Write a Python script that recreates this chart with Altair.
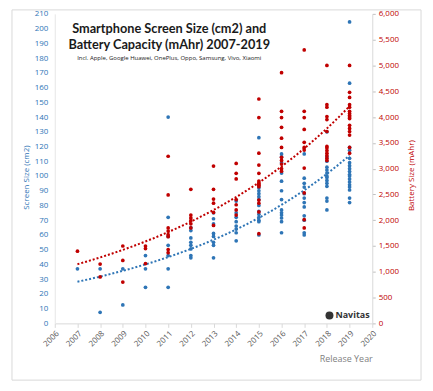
import altair as alt
import pandas as pd

# ---- data ----
years = list(range(2007, 2020))

screen_2007 = [37]
screen_2008 = [37, 7.5]
screen_2009 = [37, 12.5]
screen_2010 = [46, 37, 24.5]
screen_2011 = [140, 72, 59, 53, 46, 37, 24.5]
screen_2012 = [65, 63, 58, 55, 53, 50.5, 46, 44.5]
screen_2013 = [75, 71, 67.5, 61, 59, 55, 53, 44.5]
screen_2014 = [83, 75, 72, 69, 66, 64, 61.5, 56]
screen_2015 = [126, 92, 90, 88, 86, 84, 80, 76, 74, 72, 70, 69, 60]
screen_2016 = [115, 113, 109, 102, 96.5, 90, 84, 77, 75, 73.5, 71.5, 69, 61.5]
screen_2017 = [115, 98.5, 95, 92.5, 88, 85, 82, 79, 73, 70, 61.5, 60]
screen_2018 = [130, 113, 110, 106, 104, 102, 100, 99, 97, 95, 93, 85, 83, 77]
screen_2019 = [204.5, 163, 119.5, 117.5, 112, 109, 107, 105, 103, 101,
               100, 98, 96, 94, 92.5, 90.5, 85, 82]

battery_2007 = [1400]
battery_2008 = [1150, 900]
battery_2009 = [1500, 1220, 800]
battery_2010 = [1500, 1450, 1160]
battery_2011 = [3240, 2490, 1850, 1790, 1720, 1680, 1430, 1370]
battery_2012 = [2600, 2100, 2045, 1990, 1930, 1850]
battery_2013 = [3050, 2600, 2410, 2330, 2150, 1900]
battery_2014 = [3100, 2910, 2800, 2400, 2300, 2200, 2100]
battery_2015 = [4350, 3990, 3300, 3070, 2910, 2760, 2720, 2700, 2680, 2650,
                2390, 2330, 2160, 1740]
battery_2016 = [4860, 4110, 3990, 3800, 3590, 3410, 3220, 3160, 3090, 3000, 2950]
battery_2017 = [5300, 4110, 3990, 3760, 3510, 3410, 3360, 3010, 2530, 2010, 1850]
battery_2018 = [5000, 4240, 4190, 4010, 3950, 3720, 3430, 3400, 3350, 3300,
                3250, 3200, 3160]
battery_2019 = [5000, 4480, 4380, 4240, 4190, 4110, 4070, 4030, 4000, 3970,
                3840, 3780, 3720, 3650, 3410, 3300]

x_ticks = list(range(2006, 2021))
left_ticks = list(range(0, 211, 10))
right_ticks = list(range(0, 6001, 500))

title_lines = ["Smartphone Screen Size (cm2) and", "Battery Capacity (mAhr) 2007-2019"]
subtitle = "Incl. Apple, Google Huawei, OnePlus, Oppo, Samsung, Vivo, Xiaomi"
logo_text = "Navitas"

screen_lists = [screen_2007, screen_2008, screen_2009, screen_2010, screen_2011,
                screen_2012, screen_2013, screen_2014, screen_2015, screen_2016,
                screen_2017, screen_2018, screen_2019]
battery_lists = [battery_2007, battery_2008, battery_2009, battery_2010, battery_2011,
                 battery_2012, battery_2013, battery_2014, battery_2015, battery_2016,
                 battery_2017, battery_2018, battery_2019]

screen_df = pd.DataFrame([{"year": y, "v": v} for y, vs in zip(years, screen_lists) for v in vs])
battery_df = pd.DataFrame([{"year": y, "v": v} for y, vs in zip(years, battery_lists) for v in vs])

BLUE = "#2E75B6"
RED = "#C00000"
FONT = "Open Sans"
W, H = 319, 311

x_enc = alt.X("year:Q",
              scale=alt.Scale(domain=[2006, 2020], nice=False),
              axis=alt.Axis(values=x_ticks, format="d", labelAngle=-45,
                            labelColor="#595959", labelFontSize=8, labelFont=FONT,
                            domainColor="#d9d9d9", tickColor="#d9d9d9", tickSize=4,
                            grid=False, title="Release Year", titleAnchor="end",
                            titleColor="#7f7f7f", titleFontWeight="normal",
                            titleFontSize=9, titleFont=FONT, titlePadding=7))

y_left = alt.Y("v:Q",
               scale=alt.Scale(domain=[0, 210], nice=False),
               axis=alt.Axis(values=left_ticks, labelColor=BLUE, labelFontSize=8,
                             labelFont=FONT, ticks=False, labelPadding=7,
                             domainColor="#e6e6e6", grid=False,
                             title="Screen Size (cm2)", titleColor=BLUE,
                             titleFontWeight="normal", titleFontSize=8,
                             titleFont=FONT, titleX=-28, titleY=164,
                             titleAngle=270, titleAlign="center",
                             titleBaseline="middle"))

y_right = alt.Y("v:Q",
                scale=alt.Scale(domain=[0, 6000], nice=False),
                axis=alt.Axis(orient="right", values=right_ticks, format=",.0f",
                              labelColor=RED, labelFontSize=8, labelFont=FONT,
                              tickColor="#bfbfbf", tickSize=3, labelPadding=3,
                              domainColor="#d9d9d9", grid=False,
                              title="Battery Size (mAhr)", titleColor=RED,
                              titleFontWeight="normal", titleFontSize=8,
                              titleFont=FONT, titleX=39, titleY=162,
                              titleAngle=270, titleAlign="center",
                              titleBaseline="middle"))


def trend(df, color, y_enc):
    # Excel-style exponential trendline: least squares on ln(value)
    return alt.Chart(df).transform_calculate(
        lv="log(datum.v)"
    ).transform_regression(
        "year", "lv", method="poly", order=1, extent=[2007, 2019]
    ).transform_calculate(
        v="exp(datum.lv)"
    ).mark_line(color=color, strokeDash=[2, 2], strokeWidth=2).encode(x=x_enc, y=y_enc)


blue_pts = alt.Chart(screen_df).mark_circle(size=14, opacity=1, color=BLUE).encode(
    x=x_enc, y=y_left)
red_pts = alt.Chart(battery_df).mark_circle(size=14, opacity=1, color=RED).encode(
    x=x_enc, y=y_right)

left_layer = alt.layer(blue_pts, trend(screen_df, BLUE, y_left))
right_layer = alt.layer(red_pts, trend(battery_df, RED, y_right))

title1 = alt.Chart(pd.DataFrame({"t": [title_lines[0]]})).mark_text(
    font="Lato", fontSize=12.8, fontWeight="bold", color="#1a1a1a", align="center"
).encode(text="t:N", x=alt.value(115), y=alt.value(15))
title2 = alt.Chart(pd.DataFrame({"t": [title_lines[1]]})).mark_text(
    font="Lato", fontSize=12.8, fontWeight="bold", color="#1a1a1a", align="center"
).encode(text="t:N", x=alt.value(115), y=alt.value(31))
sub = alt.Chart(pd.DataFrame({"t": [subtitle]})).mark_text(
    font=FONT, fontSize=6, color="#1a1a1a", align="center"
).encode(text="t:N", x=alt.value(115), y=alt.value(44))

logo_dot = alt.Chart(pd.DataFrame({"t": [logo_text]})).mark_circle(
    size=64, color="#333333", opacity=1
).encode(x=alt.value(276), y=alt.value(303))
logo_txt = alt.Chart(pd.DataFrame({"t": [logo_text]})).mark_text(
    font=FONT, fontSize=9, fontWeight="bold", color="#333333", align="left"
).encode(text="t:N", x=alt.value(282), y=alt.value(303))

frame = alt.Chart(pd.DataFrame({"t": ["frame"]})).mark_rect(
    fill="transparent", stroke="#d9d9d9", strokeWidth=1
).encode(x=alt.value(-43), x2=alt.value(368), y=alt.value(-4), y2=alt.value(368))

chart = alt.layer(
    left_layer, right_layer, title1, title2, sub, logo_dot, logo_txt, frame
).resolve_scale(y="independent").properties(
    width=W, height=H,
    autosize="none",
    padding={"left": 47, "top": 5, "right": 53, "bottom": 60},
    background="white",
).configure_view(stroke=None)

chart.save("out.html", embed_options={"renderer": "svg", "actions": False})
